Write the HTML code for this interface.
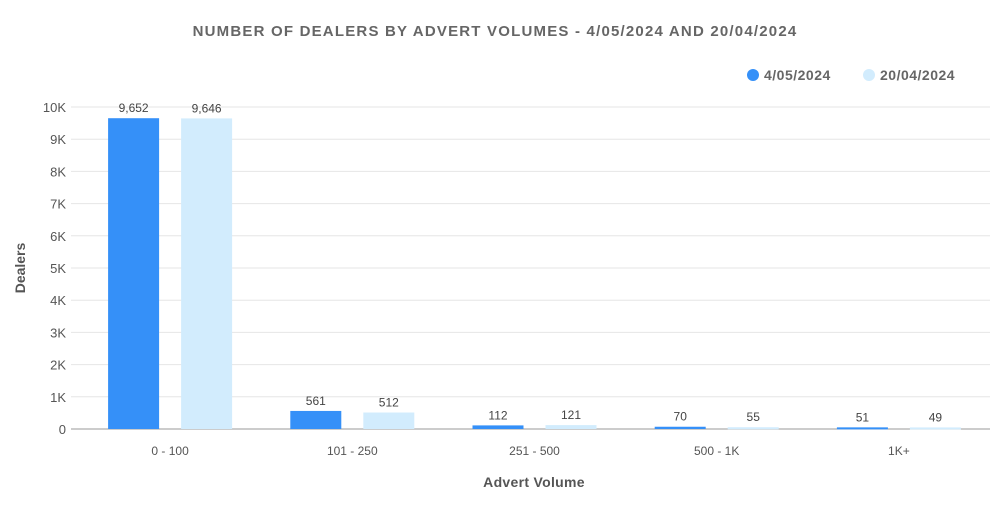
<!DOCTYPE html>
<html><head><meta charset="utf-8"><style>
body{margin:0;background:#fff;font-family:"Liberation Sans",sans-serif}
svg text{font-family:"Liberation Sans",sans-serif}
</style></head><body>
<svg id="c" width="1000" height="500">
<text x="495" y="36" text-anchor="middle" font-size="15" font-weight="bold" fill="#666" letter-spacing="1.2">NUMBER  OF  DEALERS  BY  ADVERT  VOLUMES - 4/05/2024  AND  20/04/2024</text>
<g>
<circle cx="753" cy="75" r="6" fill="#3590f8"/>
<text x="764" y="80" font-size="14" font-weight="bold" fill="#666" letter-spacing="0.5">4/05/2024</text>
<circle cx="869" cy="75" r="6" fill="#d2ecfd"/>
<text x="880" y="80" font-size="14" font-weight="bold" fill="#666" letter-spacing="0.5">20/04/2024</text>
</g>
<text transform="translate(25,268) rotate(-90)" text-anchor="middle" font-size="14" font-weight="bold" fill="#555">Dealers</text>
<text x="534" y="487" text-anchor="middle" font-size="14" font-weight="bold" fill="#555" letter-spacing="0.3">Advert Volume</text>
<g id="grid"></g><g id="bars"></g>
</svg>
<script>
const categories=["0 - 100","101 - 250","251 - 500","500 - 1K","1K+"];
const series1=[9652,561,112,70,51];
const series2=[9646,512,121,55,49];
const yTicks=[0,1000,2000,3000,4000,5000,6000,7000,8000,9000,10000];
const yTickLabels=["0","1K","2K","3K","4K","5K","6K","7K","8K","9K","10K"];
const NS="http://www.w3.org/2000/svg";
const x0=79,x1=990,y0=429,yTop=107;
const y=v=>y0-(v/10000)*(y0-yTop);
const band=(x1-x0)/categories.length;
const grid=document.getElementById('grid'),bars=document.getElementById('bars');
function mk(tag,attrs,parent){const e=document.createElementNS(NS,tag);for(const k in attrs)e.setAttribute(k,attrs[k]);parent.appendChild(e);return e;}
yTicks.forEach((t,i)=>{
 const l=mk('line',{x1:71,x2:x1,y1:y(t),y2:y(t),stroke:i===0?'#999':'#e6e6e6','stroke-width':1},grid);
 
 
 const tx=mk('text',{x:66,y:y(t)+5,'text-anchor':'end','font-size':13,fill:'#555'},grid);
 tx.textContent=yTickLabels[i];
 
 
});
const bw=51;
categories.forEach((c,i)=>{
 const cx=x0+band*(i+0.5);
 const lab=mk('text',{x:cx,y:455,'text-anchor':'middle','font-size':12,fill:'#555'},grid);
 lab.textContent=c;
 
 
 [[series1,'#3590f8',-62],[series2,'#d2ecfd',11]].forEach(([s,col,off],k)=>{
  const v=s[i],bx=cx+off;
  const r=mk('rect',{x:bx,y:y(v),width:bw,height:Math.max(y0-y(v),2),fill:col},bars);
  
  
  const t=mk('text',{x:bx+bw/2,y:y(v)-6,'text-anchor':'middle','font-size':12,fill:'#444'},bars);
  t.textContent=v.toLocaleString('en-US');
  
  
 });
});
</script>
</body></html>
